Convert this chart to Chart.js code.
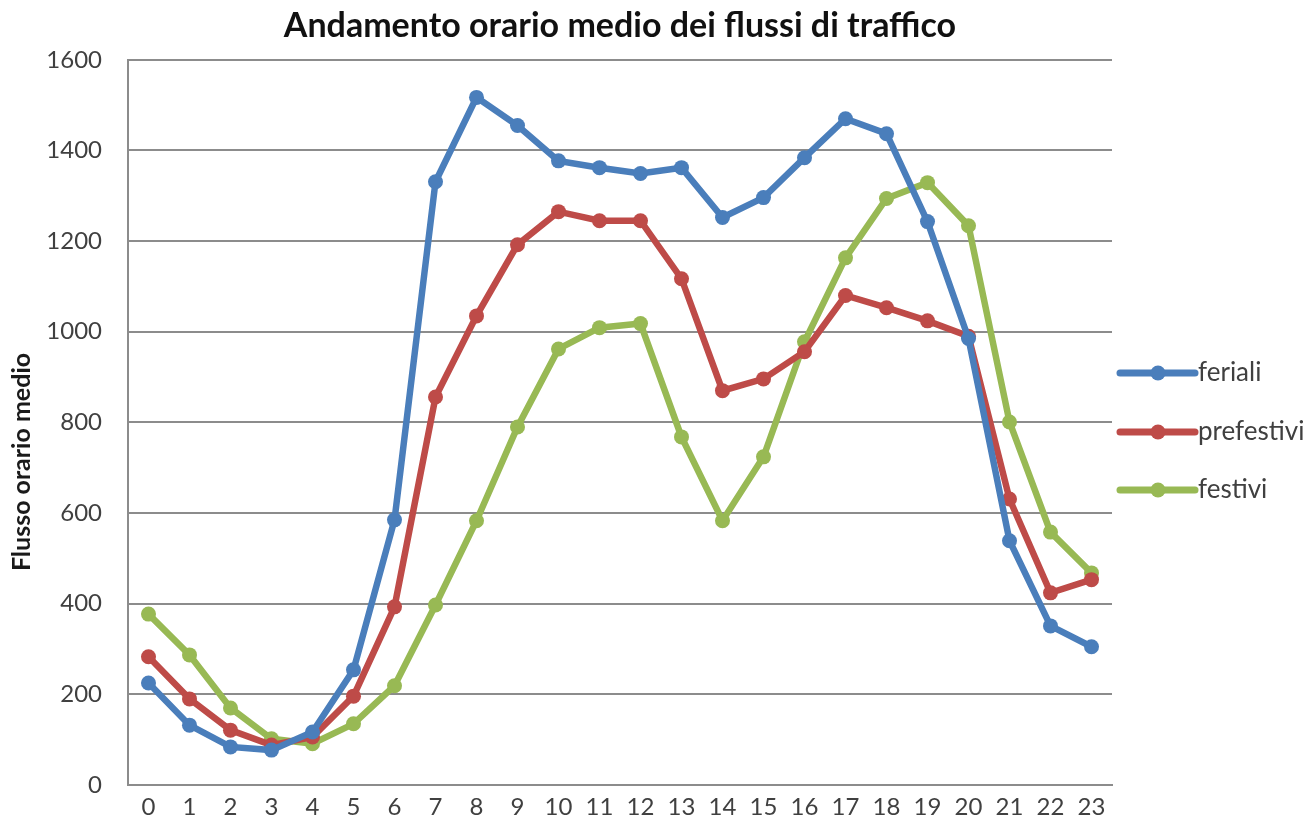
<!DOCTYPE html>
<html>
<head>
<meta charset="utf-8">
<script src="https://cdn.jsdelivr.net/npm/chart.js@4"></script>
<style>
	html, body { margin: 0; padding: 0; background: #fff; }
	#wrap { width: 1314px; height: 826px; }
</style>
</head>
<body>
<div id="wrap"><canvas id="trafficplot"></canvas></div>
<script>
const hours = ["0","1","2","3","4","5","6","7","8","9","10","11","12","13","14","15","16","17","18","19","20","21","22","23"];
const feriali = [225,132,84,77,117,254,585,1331,1517,1455,1377,1362,1349,1362,1252,1296,1384,1470,1437,1243,985,539,351,305];
const prefestivi = [283,190,121,88,106,196,393,856,1035,1192,1265,1245,1245,1117,870,896,956,1080,1053,1024,990,631,424,453];
const festivi = [377,287,170,102,91,135,219,397,583,790,962,1009,1018,768,583,724,978,1163,1294,1329,1234,801,558,468];
const seriesNames = ["feriali", "prefestivi", "festivi"];
const seriesColors = ['#4a7ebb', '#be4b48', '#98b954'];
const yTicks = [0, 200, 400, 600, 800, 1000, 1200, 1400, 1600];
const yTitle = "Flusso orario medio";
const chartTitle = "Andamento orario medio dei flussi di traffico";
const textColor = '#404040';
const gridColor = '#8c8c8c';
const fontName = "Lato";

// Legend on the right and rotated y title, drawn by hand to sit where the original has them
const sidePlugin = {
	id: 'sideLegend',
	afterDraw(chart) {
		const ctx = chart.ctx;
		const legendY = [373, 432, 490];
		ctx.save();
		chart.data.datasets.forEach(function (ds, i) {
			let y = legendY[i];
			ctx.strokeStyle = ds.borderColor;
			ctx.lineWidth = 7;
			ctx.lineCap = 'round';
			ctx.beginPath();
			ctx.moveTo(1120, y);
			ctx.lineTo(1195, y);
			ctx.stroke();
			ctx.fillStyle = ds.borderColor;
			ctx.beginPath();
			ctx.arc(1158, y, 7.5, 0, 2 * Math.PI);
			ctx.fill();
			ctx.fillStyle = textColor;
			ctx.font = "26px " + fontName;
			ctx.textAlign = 'left';
			ctx.textBaseline = 'middle';
			ctx.fillText(ds.label, 1198, y);
		});
		ctx.translate(22, 462);
		ctx.rotate(-Math.PI / 2);
		ctx.fillStyle = '#1a1a1a';
		ctx.font = "bold 25px " + fontName;
		ctx.textAlign = 'center';
		ctx.textBaseline = 'middle';
		ctx.fillText(yTitle, 0, 0);
		ctx.restore();
	}
};

function makeSet(label, values, color) {
	return {
		label: label,
		data: values,
		borderColor: color,
		backgroundColor: color,
		borderWidth: 6.5,
		pointRadius: 7.5,
		pointHoverRadius: 7.5,
		pointBorderWidth: 0,
		tension: 0
	};
}

var trafficplot = new Chart("trafficplot", {
	type: "line",
	data: {
		labels: hours,
		datasets: [
			makeSet(seriesNames[0], feriali, seriesColors[0]),
			makeSet(seriesNames[1], prefestivi, seriesColors[1]),
			makeSet(seriesNames[2], festivi, seriesColors[2])
		]
	},
	plugins: [sidePlugin],
	options: {
		responsive: true,
		maintainAspectRatio: false,
		animation: false,
		layout: {
			padding: { left: 0, right: 202, top: 0, bottom: 0 }
		},
		plugins: {
			legend: { display: false },
			tooltip: { enabled: false },
			title: {
				display: true,
				text: chartTitle,
				fullSize: false,
				color: '#111',
				font: { family: fontName, size: 34, weight: 'bold' },
				padding: { top: 6, bottom: 13 }
			}
		},
		scales: {
			x: {
				offset: true,
				grid: { display: false, drawTicks: false },
				border: { color: gridColor, width: 2 },
				ticks: {
					color: textColor,
					font: { family: fontName, size: 24 },
					padding: 8,
					maxRotation: 0,
					autoSkip: false
				},
				afterFit: function (scale) { scale.height = 41; }
			},
			y: {
				min: 0,
				max: 1600,
				afterBuildTicks: function (scale) {
					scale.ticks = yTicks.map(function (v) { return { value: v }; });
				},
				grid: { color: gridColor, lineWidth: 2, drawTicks: false },
				border: { color: gridColor, width: 2 },
				ticks: {
					color: textColor,
					font: { family: fontName, size: 24 },
					padding: 26,
					callback: function (value) { return String(value); }
				},
				afterFit: function (scale) { scale.width = 128; }
			}
		}
	}
});
</script>
</body>
</html>
